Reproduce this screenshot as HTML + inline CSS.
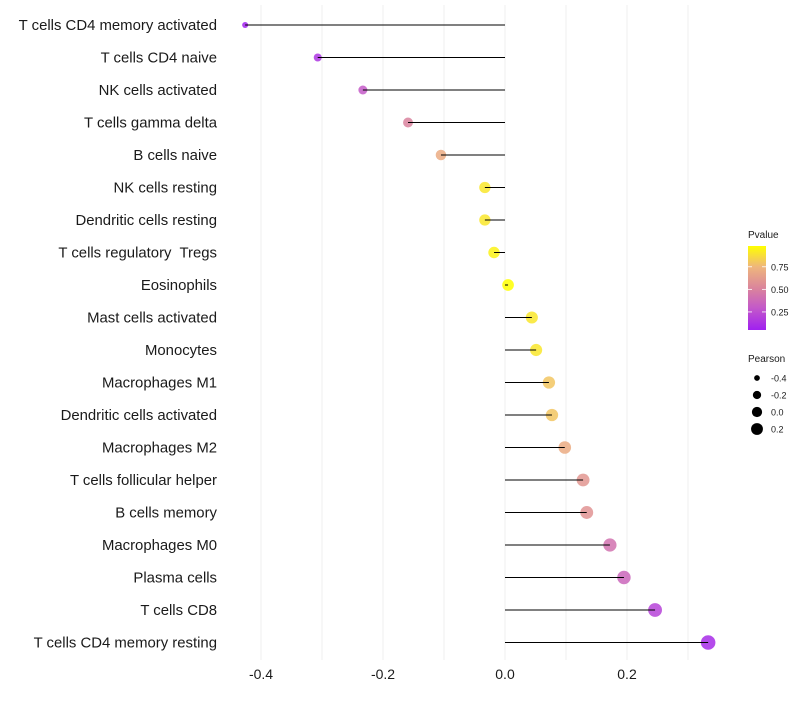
<!DOCTYPE html>
<html><head><meta charset="utf-8"><style>
body{margin:0;background:#fff;font-family:"Liberation Sans",sans-serif}
text{white-space:pre}
</style></head><body>
<svg id="chart" width="800" height="700" xmlns="http://www.w3.org/2000/svg"></svg>
<script>
const categories=["T cells CD4 memory activated","T cells CD4 naive","NK cells activated","T cells gamma delta","B cells naive","NK cells resting","Dendritic cells resting","T cells regulatory  Tregs ","Eosinophils","Mast cells activated","Monocytes","Macrophages M1","Dendritic cells activated","Macrophages M2","T cells follicular helper","B cells memory","Macrophages M0","Plasma cells","T cells CD8","T cells CD4 memory resting"];
const pearson=[-0.426,-0.307,-0.233,-0.159,-0.105,-0.033,-0.033,-0.018,0.005,0.044,0.051,0.072,0.077,0.098,0.128,0.134,0.172,0.195,0.246,0.333];
const pvalue=[0.06,0.14,0.3,0.5,0.7,0.9,0.9,0.94,0.98,0.9,0.9,0.8,0.8,0.7,0.6,0.58,0.42,0.36,0.2,0.1];
const xTicks=[-0.4,-0.2,0,0.2];
const xMinor=[-0.4,-0.3,-0.2,-0.1,0,0.1,0.2,0.3];
const pTicks=[0.25,0.5,0.75];
const sizeTicks=[-0.4,-0.2,0,0.2];

const NS="http://www.w3.org/2000/svg";
const svg=document.getElementById('chart');
const xs=v=>505+v*610;
const ys=i=>25+i*32.5;
const rs=v=>Math.sqrt(Math.max(5,16+58*(v+0.307)));
const stops=[[0.05,[160,32,240]],[0.3,[196,90,200]],[0.5,[217,130,158]],[0.75,[239,182,124]],[0.98,[255,255,0]]];
function col(p){
 if(p<=stops[0][0])return 'rgb('+stops[0][1]+')';
 for(let k=1;k<stops.length;k++){if(p<=stops[k][0]){const a=stops[k-1],b=stops[k],t=(p-a[0])/(b[0]-a[0]);return 'rgb('+a[1].map((c,j)=>Math.round(c+(b[1][j]-c)*t)).join(',')+')';}}
 return 'rgb('+stops[stops.length-1][1]+')';
}
function mk(tag,attrs,parent){const e=document.createElementNS(NS,tag);for(const k in attrs)e.setAttribute(k,attrs[k]);(parent||svg).appendChild(e);return e;}

xMinor.forEach(v=>{
 const g=mk('line',{x1:xs(v),x2:xs(v),y1:5,y2:660,stroke:'#efefef','stroke-width':1});
 
 
});
xTicks.forEach(v=>{
 const t=mk('text',{x:xs(v),y:679,'text-anchor':'middle','font-size':14,fill:'#1a1a1a'});
 t.textContent=v===0?'0.0':v.toFixed(1);
 
 
});
categories.forEach((c,i)=>{
 const t=mk('text',{x:217,y:ys(i)+5,'text-anchor':'end','font-size':14.9,fill:'#1a1a1a'});
 t.textContent=c.trimEnd();
 
 
 const d=mk('circle',{cx:xs(pearson[i]),cy:ys(i),r:rs(pearson[i]),fill:col(pvalue[i]),'fill-opacity':0.85});
 
 
 const l=mk('line',{x1:xs(0),x2:xs(pearson[i]),y1:ys(i),y2:ys(i),stroke:'#000','stroke-width':1});
 
 
});
const lg=mk('g',{});


const lt=mk('text',{x:748,y:238,'font-size':10,fill:'#1a1a1a'},lg);lt.textContent='Pvalue';
const defs=mk('defs',{});
const grad=mk('linearGradient',{id:'pg',x1:0,y1:1,x2:0,y2:0},defs);
stops.forEach(s=>mk('stop',{offset:((s[0]-0.05)/0.93),'stop-color':'rgb('+s[1]+')'},grad));
mk('rect',{x:748,y:246,width:18,height:84,fill:'url(#pg)'},lg);
const py=p=>330-(p-0.05)/0.93*84;
pTicks.forEach(p=>{
 mk('line',{x1:748,x2:752,y1:py(p),y2:py(p),stroke:'#fff','stroke-width':0.8},lg);
 mk('line',{x1:762,x2:766,y1:py(p),y2:py(p),stroke:'#fff','stroke-width':0.8},lg);
 const t=mk('text',{x:771,y:py(p)+3.5,'font-size':9,fill:'#1a1a1a'},lg);t.textContent=p.toFixed(2);
});
const sg=mk('g',{});


const st=mk('text',{x:748,y:362,'font-size':10,fill:'#1a1a1a'},sg);st.textContent='Pearson';
sizeTicks.forEach((v,k)=>{
 const y=378+k*17;
 mk('circle',{cx:757,cy:y,r:Math.max(2.5,rs(v)*0.88),fill:'#000'},sg);
 const t=mk('text',{x:771,y:y+3.5,'font-size':9,fill:'#1a1a1a'},sg);t.textContent=v.toFixed(1);
});
</script>
</body></html>
